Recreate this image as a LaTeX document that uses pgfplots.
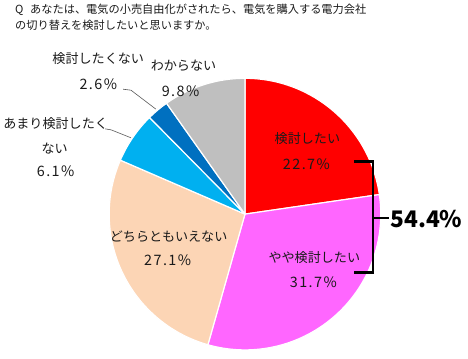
\documentclass[border=0pt]{standalone}
\usepackage{pgfplots}
\pgfplotsset{compat=1.18}
\usepackage{pgfplotstable}
\usepackage{fontspec}
\setmainfont{Noto Sans CJK JP}
\newfontfamily\numfont[LetterSpace=10]{Noto Sans CJK JP}
\definecolor{c1}{HTML}{FF0000}
\definecolor{c2}{HTML}{FF66FF}
\definecolor{c3}{HTML}{FCD5B5}
\definecolor{c4}{HTML}{00B0F0}
\definecolor{c5}{HTML}{0070C0}
\definecolor{c6}{HTML}{BFBFBF}
\definecolor{txt}{HTML}{1A1A1A}
\pgfplotstableread{
value color
22.7 c1
31.7 c2
27.1 c3
6.1 c4
2.6 c5
9.8 c6
}\piedata
\tikzset{lab/.style={font=\fontsize{13.2}{15}\selectfont,text=txt},
  num/.style={font=\numfont\fontsize{14.5}{16}\selectfont,text=txt}}
\begin{document}
\begin{tikzpicture}
\begin{axis}[x=1pt,y=1pt,xmin=0,xmax=468,ymin=0,ymax=362,hide axis,clip=false]
\path (axis cs:0,0) rectangle (axis cs:468,362);
\xdef\angA{90}
\pgfplotsforeachungrouped \i in {0,...,5}{%
  \pgfplotstablegetelem{\i}{value}\of{\piedata}\let\val\pgfplotsretval
  \pgfplotstablegetelem{\i}{color}\of{\piedata}\let\col\pgfplotsretval
  \pgfmathsetmacro\angB{\angA-3.6*\val}%
  \edef\doslice{\noexpand\fill[\col,draw=white,line width=1.2pt,line join=round] (axis cs:243,146) -- ++(\angA:137pt) arc[start angle=\angA,end angle=\angB,radius=137pt] -- cycle;}%
  \doslice
  \xdef\angA{\angB}%
}
% title
\node[anchor=west,font=\fontsize{11.3}{13}\selectfont,inner sep=0pt,text=txt] at (axis cs:11,352) {Q\hspace{0.6em}あなたは、電気の小売自由化がされたら、電気を購入する電力会社};
\node[anchor=west,font=\fontsize{11.3}{13}\selectfont,inner sep=0pt,text=txt] at (axis cs:11,337) {の切り替えを検討したいと思いますか。};
% labels
\node[lab] at (axis cs:306,222) {検討したい};
\node[num] at (axis cs:305,196) {22.7\%};
\node[lab] at (axis cs:313,102) {やや検討したい};
\node[num] at (axis cs:312,77) {31.7\%};
\node[lab] at (axis cs:166,123) {どちらともいえない};
\node[num] at (axis cs:165,99) {27.1\%};
\node[lab] at (axis cs:52,237) {あまり検討したく};
\node[lab] at (axis cs:51,212) {ない};
\node[num] at (axis cs:52,189) {6.1\%};
\node[lab] at (axis cs:95,303) {検討したくない};
\node[num] at (axis cs:95,277) {2.6\%};
\node[lab] at (axis cs:181,296) {わからない};
\node[num] at (axis cs:178,270) {9.8\%};
% leaders
\draw[black!65,line width=0.6pt] (axis cs:120,272) -- (axis cs:128,271) -- (axis cs:153,252);
\draw[black!65,line width=0.6pt] (axis cs:102,232) -- (axis cs:108,231) -- (axis cs:128,223);
% bracket
\draw[black,line width=2.5pt] (axis cs:353,199) -- (axis cs:372,199) -- (axis cs:372,87) -- (axis cs:353,87);
\draw[black,line width=2.5pt] (axis cs:372,142) -- (axis cs:388,142);
\node[font=\bfseries\fontsize{23}{25}\selectfont,inner sep=0pt] at (axis cs:426,141) {54.4\%};
\end{axis}
\end{tikzpicture}
\end{document}
